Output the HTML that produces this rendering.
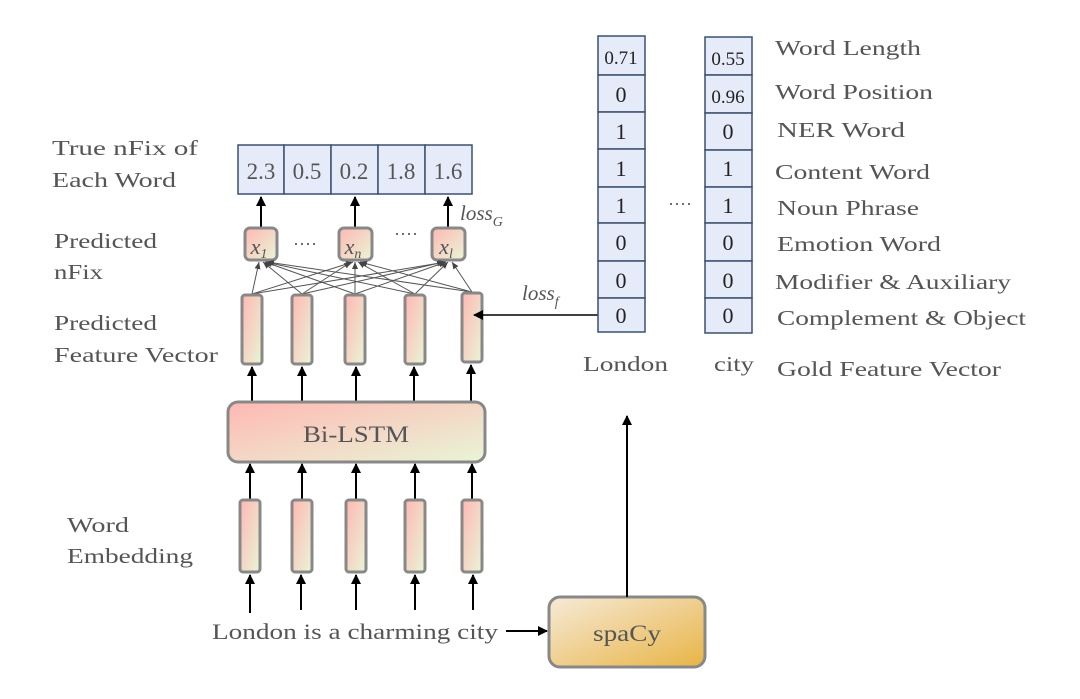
<!DOCTYPE html>
<html><head><meta charset="utf-8"><style>
html,body{margin:0;padding:0;background:#fff;}
svg{display:block;}
svg text{font-family:"Liberation Serif","Noto Serif CJK SC","DejaVu Serif",serif;fill:#555;}
</style></head><body>
<svg width="1080" height="699" viewBox="0 0 1080 699" xmlns="http://www.w3.org/2000/svg">
<defs>
<linearGradient id="g1" x1="0" y1="0" x2="1" y2="1"><stop offset="0" stop-color="#ffb8b4"/><stop offset="1" stop-color="#e8f5d6"/></linearGradient>
<linearGradient id="g2" x1="0" y1="0" x2="1" y2="1"><stop offset="0" stop-color="#f6ead8"/><stop offset="1" stop-color="#e8b445"/></linearGradient>
<marker id="ah" markerWidth="10" markerHeight="10" refX="9" refY="5" orient="auto" markerUnits="userSpaceOnUse"><path d="M0,0 L10,5 L0,10 z" fill="#000"/></marker>
<marker id="ahs" markerWidth="8" markerHeight="8" refX="7" refY="4" orient="auto" markerUnits="userSpaceOnUse"><path d="M0,1 L7,4 L0,7 z" fill="#444"/></marker>
</defs>

<g font-size="21">
<text x="52" y="155" textLength="146" lengthAdjust="spacingAndGlyphs">True nFix  of</text>
<text x="52" y="187" textLength="124" lengthAdjust="spacingAndGlyphs">Each Word</text>
<text x="54" y="248" textLength="103" lengthAdjust="spacingAndGlyphs">Predicted</text>
<text x="54" y="279" textLength="49" lengthAdjust="spacingAndGlyphs">nFix</text>
<text x="54" y="330" textLength="103" lengthAdjust="spacingAndGlyphs">Predicted</text>
<text x="54" y="362" textLength="164" lengthAdjust="spacingAndGlyphs">Feature Vector</text>
<text x="67" y="532" textLength="62" lengthAdjust="spacingAndGlyphs">Word</text>
<text x="67" y="563" textLength="126" lengthAdjust="spacingAndGlyphs">Embedding</text>
</g>

<g stroke="#3c506e" stroke-width="1.5" fill="#e6ebfa">
<rect x="238" y="145" width="46" height="49"/>
<rect x="284" y="145" width="47" height="49"/>
<rect x="331" y="145" width="47" height="49"/>
<rect x="378" y="145" width="47" height="49"/>
<rect x="425" y="145" width="47" height="49"/>
</g>
<g font-size="23" text-anchor="middle">
<text x="261" y="179">2.3</text><text x="307" y="179">0.5</text><text x="354" y="179">0.2</text><text x="401" y="179">1.8</text><text x="448" y="179">1.6</text>
</g>
<g stroke="#000" stroke-width="2">
<line x1="261" y1="227" x2="261" y2="197" marker-end="url(#ah)"/>
<line x1="355" y1="227" x2="355" y2="197" marker-end="url(#ah)"/>
<line x1="448" y1="227" x2="448" y2="197" marker-end="url(#ah)"/>
</g>
<text x="460" y="220" font-size="21" font-style="italic">loss<tspan font-size="14" dy="6">G</tspan></text>

<g stroke="#888" stroke-width="3" fill="url(#g1)">
<rect x="245" y="228" width="32" height="32" rx="5"/>
<rect x="339" y="228" width="33" height="32" rx="5"/>
<rect x="432" y="228" width="33" height="32" rx="5"/>
</g>
<g font-size="22" font-style="italic" text-anchor="middle">
<text x="259" y="254">x<tspan font-size="14" dy="4">1</tspan></text>
<text x="353" y="254">x<tspan font-size="14" dy="4">n</tspan></text>
<text x="446" y="254">x<tspan font-size="14" dy="4">l</tspan></text>
</g>
<g font-size="18"><text x="293" y="250">····</text><text x="394" y="240">····</text></g>
<text x="668" y="210" font-size="18">····</text>

<g stroke="#555" stroke-width="1" fill="none">
<line x1="252" y1="294" x2="259" y2="262" marker-end="url(#ahs)"/>
<line x1="252" y1="294" x2="353" y2="262" marker-end="url(#ahs)"/>
<line x1="252" y1="294" x2="446" y2="262" marker-end="url(#ahs)"/>
<line x1="302" y1="294" x2="263" y2="262" marker-end="url(#ahs)"/>
<line x1="302" y1="294" x2="351" y2="262" marker-end="url(#ahs)"/>
<line x1="302" y1="294" x2="444" y2="262" marker-end="url(#ahs)"/>
<line x1="355" y1="294" x2="265" y2="262" marker-end="url(#ahs)"/>
<line x1="355" y1="294" x2="355" y2="262" marker-end="url(#ahs)"/>
<line x1="355" y1="294" x2="446" y2="262" marker-end="url(#ahs)"/>
<line x1="415" y1="294" x2="265" y2="262" marker-end="url(#ahs)"/>
<line x1="415" y1="294" x2="358" y2="262" marker-end="url(#ahs)"/>
<line x1="415" y1="294" x2="448" y2="262" marker-end="url(#ahs)"/>
<line x1="472" y1="292" x2="267" y2="262" marker-end="url(#ahs)"/>
<line x1="472" y1="292" x2="360" y2="262" marker-end="url(#ahs)"/>
<line x1="472" y1="292" x2="452" y2="262" marker-end="url(#ahs)"/>
</g>

<g stroke="#888" stroke-width="3" fill="url(#g1)">
<rect x="242" y="295" width="20" height="69" rx="3"/>
<rect x="292" y="295" width="20" height="69" rx="3"/>
<rect x="345" y="295" width="20" height="69" rx="3"/>
<rect x="405" y="295" width="20" height="69" rx="3"/>
<rect x="462" y="293" width="20" height="69" rx="3"/>
</g>
<g stroke="#000" stroke-width="2">
<line x1="252" y1="402" x2="252" y2="367" marker-end="url(#ah)"/>
<line x1="302" y1="402" x2="302" y2="367" marker-end="url(#ah)"/>
<line x1="356" y1="402" x2="356" y2="367" marker-end="url(#ah)"/>
<line x1="414" y1="402" x2="414" y2="367" marker-end="url(#ah)"/>
<line x1="471" y1="402" x2="471" y2="365" marker-end="url(#ah)"/>
</g>

<rect x="228" y="402" width="257" height="60" rx="10" fill="url(#g1)" stroke="#888" stroke-width="3"/>
<text x="356" y="442" font-size="23" text-anchor="middle" textLength="106" lengthAdjust="spacingAndGlyphs">Bi-LSTM</text>

<g stroke="#000" stroke-width="2">
<line x1="250" y1="500" x2="250" y2="464" marker-end="url(#ah)"/>
<line x1="302" y1="500" x2="302" y2="464" marker-end="url(#ah)"/>
<line x1="356" y1="500" x2="356" y2="464" marker-end="url(#ah)"/>
<line x1="415" y1="500" x2="415" y2="464" marker-end="url(#ah)"/>
<line x1="472" y1="500" x2="472" y2="464" marker-end="url(#ah)"/>
</g>
<g stroke="#888" stroke-width="3" fill="url(#g1)">
<rect x="240" y="500" width="20" height="72" rx="3"/>
<rect x="292" y="500" width="20" height="72" rx="3"/>
<rect x="346" y="500" width="20" height="72" rx="3"/>
<rect x="405" y="500" width="20" height="72" rx="3"/>
<rect x="462" y="500" width="20" height="72" rx="3"/>
</g>
<g stroke="#000" stroke-width="2">
<line x1="250" y1="613" x2="250" y2="575" marker-end="url(#ah)"/>
<line x1="301" y1="610" x2="301" y2="575" marker-end="url(#ah)"/>
<line x1="356" y1="610" x2="356" y2="575" marker-end="url(#ah)"/>
<line x1="415" y1="610" x2="415" y2="575" marker-end="url(#ah)"/>
<line x1="473" y1="610" x2="473" y2="575" marker-end="url(#ah)"/>
</g>
<text x="212" y="639" font-size="22" textLength="286" lengthAdjust="spacingAndGlyphs">London is a charming city</text>
<line x1="506" y1="631" x2="547" y2="631" stroke="#000" stroke-width="2" marker-end="url(#ah)"/>

<rect x="549" y="597" width="156" height="70" rx="11" fill="url(#g2)" stroke="#888" stroke-width="3"/>
<text x="627" y="641" font-size="23" text-anchor="middle" textLength="68" lengthAdjust="spacingAndGlyphs">spaCy</text>
<line x1="627" y1="597" x2="627" y2="416" stroke="#000" stroke-width="2" marker-end="url(#ah)"/>

<line x1="598" y1="315" x2="474" y2="315" stroke="#000" stroke-width="1.5" marker-end="url(#ah)"/>
<text x="522" y="300" font-size="21" font-style="italic">loss<tspan font-size="14" dy="6">f</tspan></text>

<g stroke="#3c506e" stroke-width="1.5" fill="#e6ebfa">
<rect x="598" y="36" width="47" height="39"/><rect x="598" y="75" width="47" height="37"/><rect x="598" y="112" width="47" height="37"/><rect x="598" y="149" width="47" height="38"/><rect x="598" y="187" width="47" height="36"/><rect x="598" y="223" width="47" height="38"/><rect x="598" y="261" width="47" height="37"/><rect x="598" y="298" width="47" height="34"/>
<rect x="705" y="37" width="47" height="38"/><rect x="705" y="75" width="47" height="38"/><rect x="705" y="113" width="47" height="37"/><rect x="705" y="150" width="47" height="37"/><rect x="705" y="187" width="47" height="36"/><rect x="705" y="223" width="47" height="38"/><rect x="705" y="261" width="47" height="37"/><rect x="705" y="298" width="47" height="35"/>
</g>
<g font-size="22" text-anchor="middle">
<text x="621" y="64" font-size="19" style="fill:#222">0.71</text>
<text x="621" y="102" style="fill:#222">0</text><text x="621" y="139" style="fill:#222">1</text><text x="621" y="176" style="fill:#222">1</text><text x="621" y="213" style="fill:#222">1</text><text x="621" y="250" style="fill:#222">0</text><text x="621" y="288" style="fill:#222">0</text><text x="621" y="323" style="fill:#222">0</text>
<text x="728" y="65" font-size="19" style="fill:#222">0.55</text>
<text x="728" y="103" font-size="19" style="fill:#222">0.96</text>
<text x="728" y="139" style="fill:#222">0</text><text x="728" y="176" style="fill:#222">1</text><text x="728" y="213" style="fill:#222">1</text><text x="728" y="250" style="fill:#222">0</text><text x="728" y="288" style="fill:#222">0</text><text x="728" y="323" style="fill:#222">0</text>
</g>
<g font-size="21">
<text x="775" y="55" textLength="146" lengthAdjust="spacingAndGlyphs">Word Length</text>
<text x="775" y="99" textLength="158" lengthAdjust="spacingAndGlyphs">Word Position</text>
<text x="777" y="137" textLength="128" lengthAdjust="spacingAndGlyphs">NER  Word</text>
<text x="775" y="179" textLength="155" lengthAdjust="spacingAndGlyphs">Content Word</text>
<text x="777" y="215" textLength="142" lengthAdjust="spacingAndGlyphs">Noun Phrase</text>
<text x="777" y="251" textLength="164" lengthAdjust="spacingAndGlyphs">Emotion Word</text>
<text x="775" y="289" textLength="236" lengthAdjust="spacingAndGlyphs">Modifier &amp; Auxiliary</text>
<text x="777" y="325" textLength="249" lengthAdjust="spacingAndGlyphs">Complement &amp; Object</text>
<text x="583" y="371" textLength="85" lengthAdjust="spacingAndGlyphs">London</text>
<text x="714" y="371" textLength="40" lengthAdjust="spacingAndGlyphs">city</text>
<text x="777" y="376" textLength="224" lengthAdjust="spacingAndGlyphs">Gold Feature Vector</text>
</g>
</svg>
</body></html>
